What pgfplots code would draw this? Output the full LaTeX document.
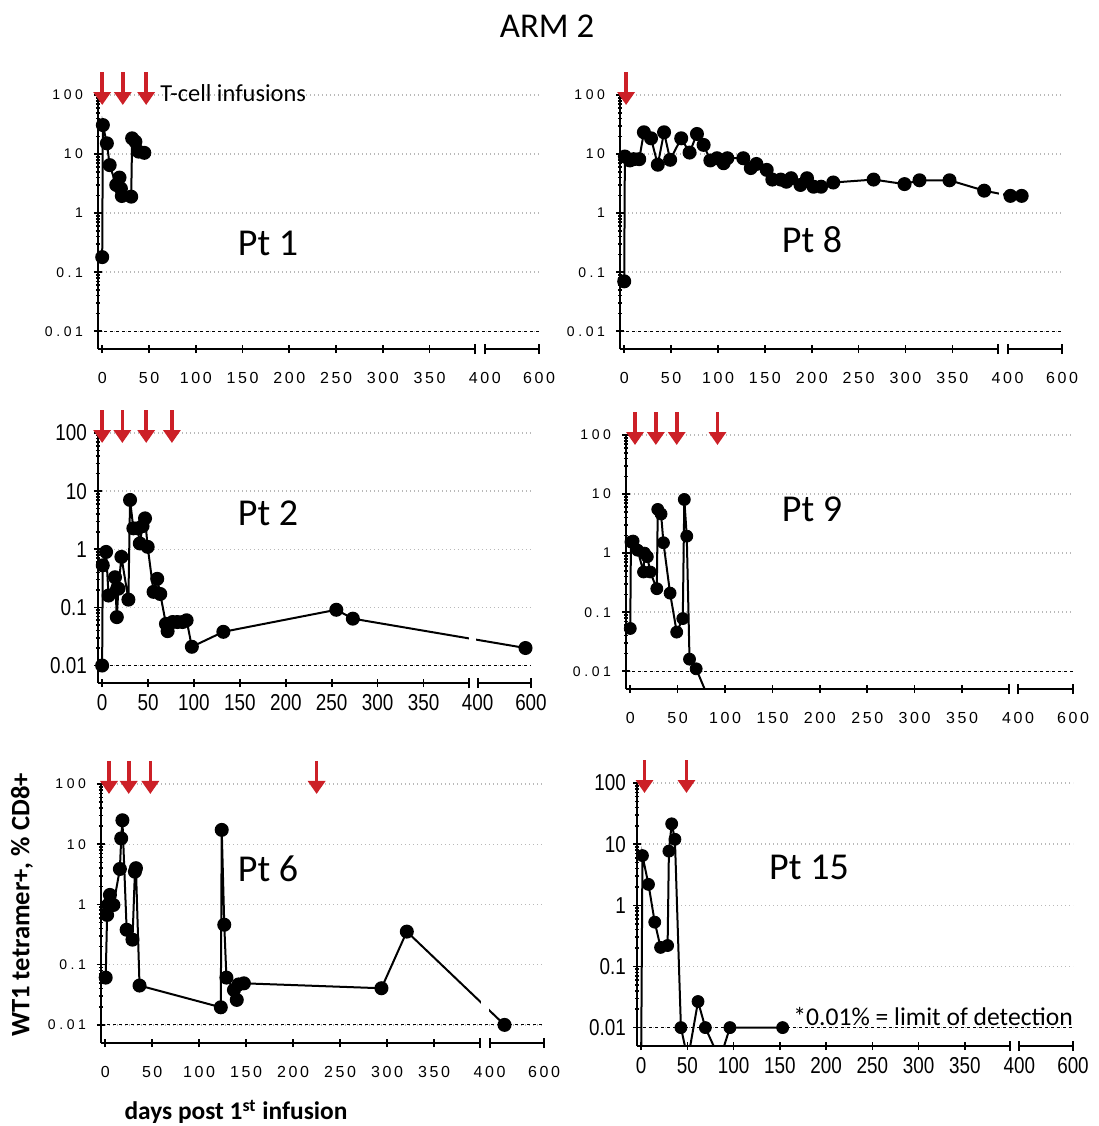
\documentclass[border=0pt]{standalone}
\usepackage{fontspec}
\setmainfont{Liberation Sans}
\newfontfamily\carl{Carlito}
\usepackage{graphicx}
\usepackage{pgfplots}
\pgfplotsset{compat=1.18}
\usetikzlibrary{arrows.meta}
\definecolor{arrred}{RGB}{204,32,39}
\newcommand{\lsx}{\kern1.3pt}
\newcommand{\lsy}{\kern1.8pt}
\newcommand{\nar}[1]{\scalebox{0.82}[1]{#1}}

\tikzset{inf/.style={draw=arrred, line width=1.8pt, -{Triangle[width=8.5pt,length=6.5pt]}}}
\newcommand{\axpts}[1]{%
  \coordinate (#1L) at (axis cs:-4.5,0.005);
  \coordinate (#1A) at (axis cs:399,0.005);
  \coordinate (#1B) at (axis cs:409,0.005);
  \coordinate (#1C) at (axis cs:467,0.005);
  \coordinate (#1D) at (axis cs:-4.5,0.01);
  \coordinate (#1E) at (axis cs:467,0.01);
}
\newcommand{\drawax}[1]{%
  \draw[line width=0.6pt, dash pattern=on 1.5pt off 1.5pt] (#1D) -- (#1E);
  \draw[line width=1pt] (#1L) -- (#1A);
  \draw[line width=1pt] (#1B) -- (#1C);
  \draw[line width=1pt] ([yshift=-2.5pt]#1A) -- ([yshift=2.5pt]#1A);
  \draw[line width=1pt] ([yshift=-2.5pt]#1B) -- ([yshift=2.5pt]#1B);
  \draw[line width=1pt] ([yshift=-2.5pt]#1C) -- ([yshift=2.5pt]#1C);
}
\newcommand{\arrpt}[2]{\coordinate (#1h) at (axis cs:#2,100);}
\newcommand{\drawarr}[1]{\draw[inf] ([yshift=11.5pt]#1h) -- ([yshift=-5pt]#1h);}

\begin{document}
\begin{tikzpicture}
\useasboundingbox (0,0) rectangle (549.5pt,-563pt);

% ---------------- Pt 1
\begin{semilogyaxis}[
  ymin=0.005, ymax=100, xmin=-4.5, xmax=467,
  axis x line=bottom, axis y line=left,
  x axis line style={draw=none}, y axis line style={-, line width=1pt},
  xtick={0,50,100,150,200,250,300,350,409,467}, ytick={0.01,0.1,1,10,100},
  tick align=center, major tick length=4pt, minor tick length=2pt,
  tick style={black, line width=0.8pt},
  ymajorgrids, major grid style={line width=0.7pt, gray!55, dash pattern=on 0.7pt off 1.3pt},
  yticklabel style={font=\fontsize{7}{8}\selectfont, xshift=-2pt},
  xticklabel style={font=\fontsize{8}{9}\selectfont, yshift=-6pt},
  yticklabels={{0\lsy.\lsy0\lsy1},{0\lsy.\lsy1},{1},{1\lsy0},{1\lsy0\lsy0}},
  xticklabels={{0},{5\lsx0},{1\lsx0\lsx0},{1\lsx5\lsx0},{2\lsx0\lsx0},{2\lsx5\lsx0},{3\lsx0\lsx0},{3\lsx5\lsx0},{4\lsx0\lsx0},{6\lsx0\lsx0}},
  width=220.5pt, height=127pt, scale only axis, at={(49pt,-174.5pt)}, anchor=south west]
\addplot[black, line width=1pt, mark=*, mark size=3pt] coordinates {
(0,0.18) (0.7,31) (5,15.2) (8,6.5) (15,3.0) (18.5,4.0) (20,2.6) (21,1.95)
(31,1.9) (32,18.5) (35.5,16.2) (39,11) (45,10.5)
};
\axpts{p1}
\arrpt{p1a}{0}\arrpt{p1b}{22}\arrpt{p1c}{47}
\end{semilogyaxis}
\drawax{p1}
\drawarr{p1a}\drawarr{p1b}\drawarr{p1c}

% ---------------- Pt 8  (days 410 and 451 plotted at 412 and 424 on the compressed 400-600 segment)
\begin{semilogyaxis}[
  ymin=0.005, ymax=100, xmin=-4.5, xmax=467,
  axis x line=bottom, axis y line=left,
  x axis line style={draw=none}, y axis line style={-, line width=1pt},
  xtick={0,50,100,150,200,250,300,350,409,467}, ytick={0.01,0.1,1,10,100},
  tick align=center, major tick length=4pt, minor tick length=2pt,
  tick style={black, line width=0.8pt},
  ymajorgrids, major grid style={line width=0.7pt, gray!55, dash pattern=on 0.7pt off 1.3pt},
  yticklabel style={font=\fontsize{7}{8}\selectfont, xshift=-2pt},
  xticklabel style={font=\fontsize{8}{9}\selectfont, yshift=-6pt},
  yticklabels={{0\lsy.\lsy0\lsy1},{0\lsy.\lsy1},{1},{1\lsy0},{1\lsy0\lsy0}},
  xticklabels={{0},{5\lsx0},{1\lsx0\lsx0},{1\lsx5\lsx0},{2\lsx0\lsx0},{2\lsx5\lsx0},{3\lsx0\lsx0},{3\lsx5\lsx0},{4\lsx0\lsx0},{6\lsx0\lsx0}},
  width=221pt, height=127pt, scale only axis, at={(310pt,-174.5pt)}, anchor=south west]
\addplot[black, line width=1pt, mark=*, mark size=3pt] coordinates {
(0,0.07) (0.7,9.1) (6,7.8) (10,8.2) (16,8.2) (21,23.4) (28.6,18.5) (35.8,6.6)
(42.5,23.4) (49,8.0) (60.8,18.5) (69.7,10.6) (77.6,21.9) (84.7,14.3) (91.9,7.8)
(99,8.5) (106,7.0) (110,8.5) (127,8.5) (135,5.8) (141,6.8) (152,5.4) (158,3.7)
(167,3.7) (173,3.4) (178,3.9) (188,3.0) (195,3.9) (202,2.8) (210,2.8) (223,3.3)
(266,3.7) (299,3.1) (315,3.6) (347,3.6) (384,2.4) (412,1.96) (424,1.96)
};
\fill[white] (axis cs:399.5,1.7) rectangle (axis cs:404.5,2.6);
\axpts{p8}
\arrpt{p8a}{2}
\end{semilogyaxis}
\drawax{p8}
\drawarr{p8a}

% ---------------- Pt 2  (day 580 plotted at 461)
\begin{semilogyaxis}[
  ymin=0.005, ymax=100, xmin=-4.5, xmax=467,
  axis x line=bottom, axis y line=left,
  x axis line style={draw=none}, y axis line style={-, line width=1pt},
  xtick={0,50,100,150,200,250,300,350,409,467}, ytick={0.01,0.1,1,10,100},
  tick align=center, major tick length=4pt, minor tick length=2pt,
  tick style={black, line width=0.8pt},
  ymajorgrids, major grid style={line width=0.7pt, gray!55, dash pattern=on 0.7pt off 1.3pt},
  yticklabel style={font=\fontsize{11.5}{12}\selectfont},
  xticklabel style={font=\fontsize{11.5}{12}\selectfont},
  yticklabels={{\nar{0.01}},{\nar{0.1}},{\nar{1}},{\nar{10}},{\nar{100}}},
  xticklabels={{\nar{0}},{\nar{50}},{\nar{100}},{\nar{150}},{\nar{200}},{\nar{250}},{\nar{300}},{\nar{350}},{\nar{400}},{\nar{600}}},
  width=216.5pt, height=125pt, scale only axis, at={(49pt,-341.5pt)}, anchor=south west]
\addplot[black, line width=1pt, mark=*, mark size=3pt] coordinates {
(0,0.01) (0.7,0.53) (4.3,0.9) (7,0.16) (14,0.33) (16,0.068) (17.7,0.21) (21,0.74)
(28.6,0.136) (30.4,7.06) (34,2.29) (38.7,2.29) (41,1.26) (44,2.5) (46.7,3.4)
(49.6,1.1) (56,0.185) (60,0.31) (63.3,0.17) (69.5,0.052) (71.3,0.039) (76.7,0.056)
(82,0.056) (87.6,0.056) (92,0.06) (97.7,0.021) (132,0.038) (255,0.091) (273,0.064)
(461,0.02)
};
\fill[white] (axis cs:399.5,0.02) rectangle (axis cs:407.5,0.04);
\axpts{p2}
\arrpt{p2a}{0}\arrpt{p2b}{22}\arrpt{p2c}{48}\arrpt{p2d}{76}
\end{semilogyaxis}
\drawax{p2}
\drawarr{p2a}\drawarr{p2b}\drawarr{p2c}\drawarr{p2d}

% ---------------- Pt 9
\begin{semilogyaxis}[
  ymin=0.005, ymax=100, xmin=-4.5, xmax=467,
  axis x line=bottom, axis y line=left,
  x axis line style={draw=none}, y axis line style={-, line width=1pt},
  xtick={0,50,100,150,200,250,300,350,409,467}, ytick={0.01,0.1,1,10,100},
  tick align=center, major tick length=4pt, minor tick length=2pt,
  tick style={black, line width=0.8pt},
  ymajorgrids, major grid style={line width=0.7pt, gray!55, dash pattern=on 0.7pt off 1.3pt},
  yticklabel style={font=\fontsize{7}{8}\selectfont, xshift=-2pt},
  xticklabel style={font=\fontsize{8}{9}\selectfont, yshift=-6pt},
  yticklabels={{0\lsy.\lsy0\lsy1},{0\lsy.\lsy1},{1},{1\lsy0},{1\lsy0\lsy0}},
  xticklabels={{0},{5\lsx0},{1\lsx0\lsx0},{1\lsx5\lsx0},{2\lsx0\lsx0},{2\lsx5\lsx0},{3\lsx0\lsx0},{3\lsx5\lsx0},{4\lsx0\lsx0},{6\lsx0\lsx0}},
  width=223.5pt, height=127pt, scale only axis, at={(313pt,-344.5pt)}, anchor=south west]
% line through all measurements (the last one falls below the axis)
\addplot[black, line width=1pt, no marks] coordinates {
(0,0.053) (0.7,1.55) (3,1.6) (7.8,1.12) (14,0.48) (15,1.0) (18,0.87) (21,0.48)
(28,0.25) (29,5.5) (32.5,4.6) (35,1.5) (42,0.21) (49,0.046) (55.4,0.078)
(57,8.1) (59.6,1.94) (62.5,0.016) (69.5,0.011) (85,0.0028)
};
% markers of the measurements inside the plotted range
\addplot[black, only marks, mark=*, mark size=3pt] coordinates {
(0,0.053) (0.7,1.55) (3,1.6) (7.8,1.12) (14,0.48) (15,1.0) (18,0.87) (21,0.48)
(28,0.25) (29,5.5) (32.5,4.6) (35,1.5) (42,0.21) (49,0.046) (55.4,0.078)
(57,8.1) (59.6,1.94) (62.5,0.016) (69.5,0.011)
};
\axpts{p9}
\arrpt{p9a}{5}\arrpt{p9b}{27}\arrpt{p9c}{49}\arrpt{p9d}{92}
\end{semilogyaxis}
\drawax{p9}
\drawarr{p9a}\drawarr{p9b}\drawarr{p9c}\drawarr{p9d}

% ---------------- Pt 6  (day 455 plotted at 425)
\begin{semilogyaxis}[
  ymin=0.005, ymax=100, xmin=-4.5, xmax=467,
  axis x line=bottom, axis y line=left,
  x axis line style={draw=none}, y axis line style={-, line width=1pt},
  xtick={0,50,100,150,200,250,300,350,409,467}, ytick={0.01,0.1,1,10,100},
  tick align=center, major tick length=4pt, minor tick length=2pt,
  tick style={black, line width=0.8pt},
  ymajorgrids, major grid style={line width=0.7pt, gray!55, dash pattern=on 0.7pt off 1.3pt},
  yticklabel style={font=\fontsize{7}{8}\selectfont, xshift=-2pt},
  xticklabel style={font=\fontsize{8}{9}\selectfont, yshift=-6pt},
  yticklabels={{0\lsy.\lsy0\lsy1},{0\lsy.\lsy1},{1},{1\lsy0},{1\lsy0\lsy0}},
  xticklabels={{0},{5\lsx0},{1\lsx0\lsx0},{1\lsx5\lsx0},{2\lsx0\lsx0},{2\lsx5\lsx0},{3\lsx0\lsx0},{3\lsx5\lsx0},{4\lsx0\lsx0},{6\lsx0\lsx0}},
  width=221.5pt, height=129.5pt, scale only axis, at={(50.5pt,-521.5pt)}, anchor=south west]
\addplot[black, line width=1pt, mark=*, mark size=3pt] coordinates {
(0.5,0.061) (2,0.67) (3,0.98) (5,1.44) (8.7,0.98) (15.6,3.88) (17,12.5) (18.3,25)
(22.8,0.38) (29,0.26) (31.6,3.5) (32.7,4.0) (36.5,0.045) (123,0.0196) (124,17.3)
(126.7,0.46) (129,0.061) (137,0.038) (140,0.026) (142,0.047) (147.6,0.049)
(294,0.0406) (321,0.354) (425,0.01)
};
\fill[white] (axis cs:399.5,0.014) rectangle (axis cs:408,0.032);
\axpts{p6}
\arrpt{p6a}{4}\arrpt{p6b}{25}\arrpt{p6c}{48}\arrpt{p6d}{225}
\end{semilogyaxis}
\drawax{p6}
\drawarr{p6a}\drawarr{p6b}\drawarr{p6c}\drawarr{p6d}

% ---------------- Pt 15
\begin{semilogyaxis}[
  ymin=0.005, ymax=100, xmin=-4.5, xmax=467,
  axis x line=bottom, axis y line=left,
  x axis line style={draw=none}, y axis line style={-, line width=1pt},
  xtick={0,50,100,150,200,250,300,350,409,467}, ytick={0.01,0.1,1,10,100},
  tick align=center, major tick length=4pt, minor tick length=2pt,
  tick style={black, line width=0.8pt},
  ymajorgrids, major grid style={line width=0.7pt, gray!55, dash pattern=on 0.7pt off 1.3pt},
  yticklabel style={font=\fontsize{11.5}{12}\selectfont},
  xticklabel style={font=\fontsize{11.5}{12}\selectfont},
  yticklabels={{\nar{0.01}},{\nar{0.1}},{\nar{1}},{\nar{10}},{\nar{100}}},
  xticklabels={{\nar{0}},{\nar{50}},{\nar{100}},{\nar{150}},{\nar{200}},{\nar{250}},{\nar{300}},{\nar{350}},{\nar{400}},{\nar{600}}},
  width=218pt, height=131.5pt, scale only axis, at={(318.5pt,-523pt)}, anchor=south west]
% line through all measurements (three fall below the axis)
\addplot[black, line width=1pt, no marks] coordinates {
(0,0.003) (1.4,6.5) (7.9,2.2) (14.7,0.53) (21,0.205) (28.6,0.22) (30,7.7) (33,21.5)
(36.5,12) (43,0.01) (50.5,0.003) (61.5,0.0267) (69.4,0.01) (85,0.003) (96,0.01)
(153,0.01)
};
% markers of the measurements inside the plotted range
\addplot[black, only marks, mark=*, mark size=3pt] coordinates {
(1.4,6.5) (7.9,2.2) (14.7,0.53) (21,0.205) (28.6,0.22) (30,7.7) (33,21.5)
(36.5,12) (43,0.01) (61.5,0.0267) (69.4,0.01) (96,0.01) (153,0.01)
};
\axpts{p15}
\arrpt{p15a}{3.6}\arrpt{p15b}{49}
\end{semilogyaxis}
\drawax{p15}
\drawarr{p15a}\drawarr{p15b}

% ---------------- texts
\node[font=\carl\fontsize{17.4}{20}\selectfont] at (273.5pt,-13pt) {ARM 2};
\node[font=\carl\fontsize{12.2}{14}\selectfont, anchor=west, inner sep=0pt] at (80pt,-46.5pt) {T-cell infusions};
\node[font=\carl\fontsize{19}{22}\selectfont] at (134pt,-121.5pt) {Pt 1};
\node[font=\carl\fontsize{19}{22}\selectfont] at (406pt,-120pt) {Pt 8};
\node[font=\carl\fontsize{19}{22}\selectfont] at (134pt,-256.5pt) {Pt 2};
\node[font=\carl\fontsize{19}{22}\selectfont] at (406pt,-254.5pt) {Pt 9};
\node[font=\carl\fontsize{19}{22}\selectfont] at (134pt,-434.5pt) {Pt 6};
\node[font=\carl\fontsize{19}{22}\selectfont] at (404.5pt,-433.5pt) {Pt 15};
\node[font=\carl\fontsize{12.8}{14}\selectfont, anchor=west, inner sep=0pt, fill=white] at (396.5pt,-508.5pt) {*0.01\% = limit of detection};
\node[font=\carl\bfseries\fontsize{13.3}{15}\selectfont, rotate=90] at (11pt,-452.5pt) {WT1 tetramer+, \% CD8+};
\node[font=\carl\bfseries\fontsize{12.7}{14}\selectfont] at (118pt,-556pt) {days post 1\textsuperscript{st} infusion};
\end{tikzpicture}
\end{document}
